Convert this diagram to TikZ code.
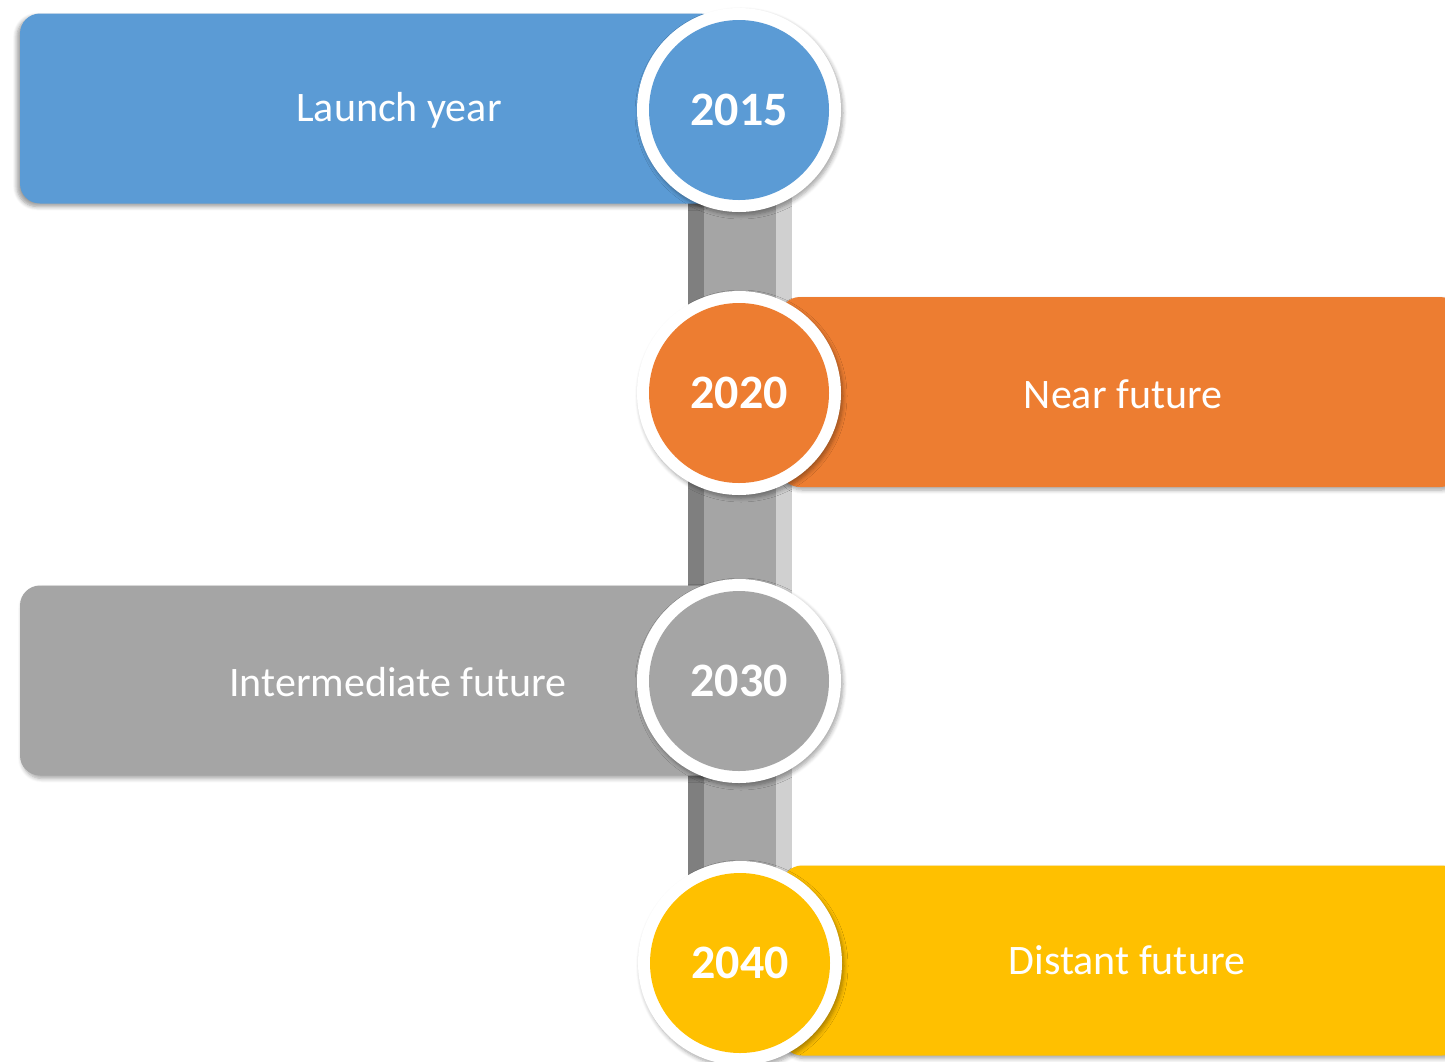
\documentclass[tikz,border=0pt]{standalone}
\usepackage{fontspec}
\setmainfont{Carlito}
\usetikzlibrary{shadows.blur}
\definecolor{cblue}{HTML}{5B9BD5}
\definecolor{corange}{HTML}{ED7D31}
\definecolor{cgray}{HTML}{A5A5A5}
\definecolor{cyellow}{HTML}{FFC000}
\definecolor{bardark}{HTML}{7F7F7F}
\definecolor{barmid}{HTML}{A5A5A5}
\definecolor{barlight}{HTML}{D0D0D0}
\begin{document}
\begin{tikzpicture}[x=1pt,y=-1pt,
  card/.style={rectangle, rounded corners=20pt, minimum height=190pt, inner sep=0pt, draw=none},
  lshadow/.style={blur shadow={shadow xshift=-3pt, shadow yshift=-3pt, shadow blur steps=6, shadow blur radius=4pt, shadow opacity=40}},
  rshadow/.style={blur shadow={shadow xshift=2pt, shadow yshift=-3pt, shadow blur steps=6, shadow blur radius=4pt, shadow opacity=35}},
  ring/.style={circle, fill=white, minimum size=204pt, inner sep=0pt, blur shadow={shadow xshift=2pt, shadow yshift=-3pt, shadow blur steps=6, shadow blur radius=4pt, shadow opacity=35}},
  disc/.style={circle, minimum size=180pt, inner sep=0pt, text=white, font=\fontsize{48}{50}\selectfont\bfseries},
  label/.style={text=white, font=\fontsize{42}{44}\selectfont, inner sep=0pt}
]
\useasboundingbox (0,0) rectangle (1445,1061);
% vertical bar
\fill[bardark] (688,190) rectangle (704,880);
\fill[barmid] (704,190) rectangle (776,880);
\fill[barlight] (776,190) rectangle (792,880);
% cards
\node[card, lshadow, fill=cblue, minimum width=700pt] (c1) at (370,108.5) {};
\node[card, rshadow, fill=corange, minimum width=680pt] (c2) at (1120,392) {};
\node[card, rshadow, fill=cgray, minimum width=700pt] (c3) at (370,680.5) {};
\node[card, rshadow, fill=cyellow, minimum width=680pt] (c4) at (1122,960.5) {};
% labels
\node[label] (l1) at (399,110) {Launch year};
\node[label] (l2) at (1123,394) {Near future};
\node[label] (l3) at (398,682) {Intermediate future};
\node[label] (l4) at (1127,960) {Distant future};
% circles
\node[ring] (r1) at (739,110) {};
\node[disc, fill=cblue] (y1) at (739,110) {2015};
\node[ring] (r2) at (739,393) {};
\node[disc, fill=corange] (y2) at (739,393) {2020};
\node[ring] (r3) at (739,681) {};
\node[disc, fill=cgray] (y3) at (739,681) {2030};
\node[ring] (r4) at (740,963) {};
\node[disc, fill=cyellow] (y4) at (740,963) {2040};
\end{tikzpicture}
\end{document}
